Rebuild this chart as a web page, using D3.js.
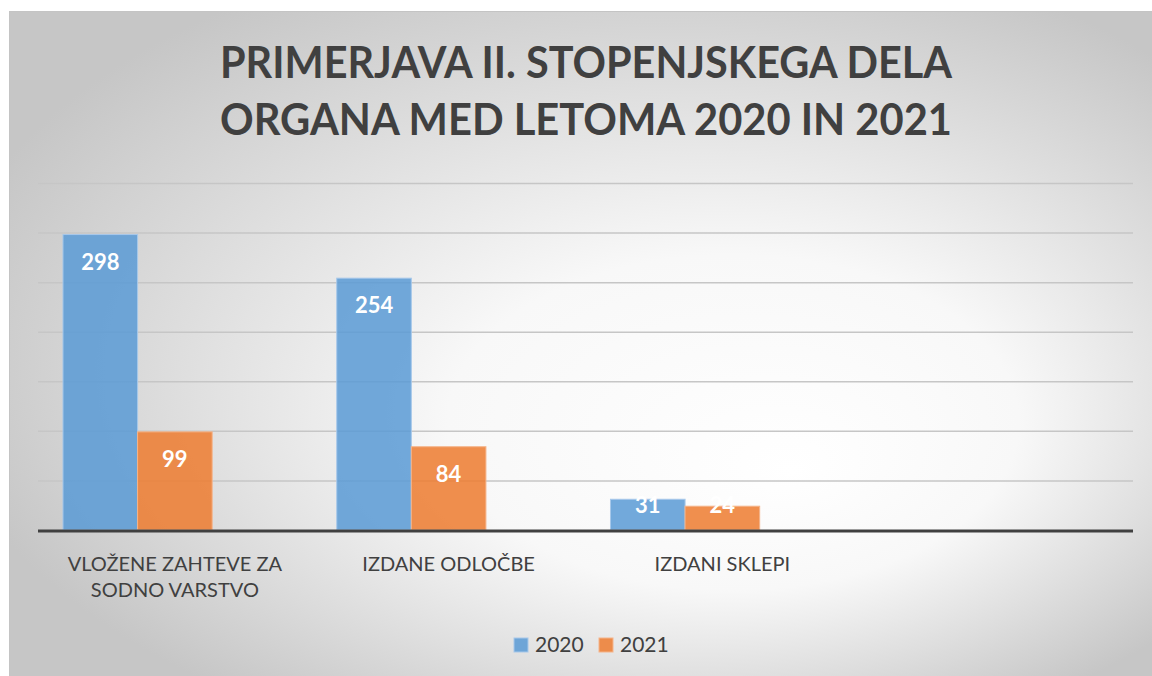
<!DOCTYPE html>
<html>
<head>
<meta charset="utf-8">
<script src="https://cdn.jsdelivr.net/npm/d3@7"></script>
<style>
  html, body { margin: 0; padding: 0; background: #ffffff; }
  svg { display: block; }
</style>
</head>
<body>
<div id="canvas"></div>
<script>
// chart data
const categories = ["VLOŽENE ZAHTEVE ZA SODNO VARSTVO", "IZDANE ODLOČBE", "IZDANI SKLEPI"];
const seriesNames = ["2020", "2021"];
const values2020 = [298, 254, 31];
const values2021 = [99, 84, 24];
const yTicks = [50, 100, 150, 200, 250, 300, 350];
const titleLines = ["PRIMERJAVA II. STOPENJSKEGA DELA", "ORGANA MED LETOMA 2020 IN 2021"];

const w = 1152;
const h = 676;
const colors = { "2020": "#5b9bd5", "2021": "#ed7d31" };
const strokes = { "2020": "#a7c8ea", "2021": "#f5b48a" };
const fontFam = "Lato, 'Open Sans', sans-serif";

const svg = d3.select("#canvas")
  .append("svg")
  .attr("width", w)
  .attr("height", h);

const defs = svg.append("defs");
const bg = defs.append("radialGradient")
  .attr("id", "bg")
  .attr("cx", 0.55).attr("cy", 0.5).attr("r", 0.62)
  .attr("fx", 0.68).attr("fy", 0.68);
bg.append("stop").attr("offset", 0).attr("stop-color", "#ffffff");
bg.append("stop").attr("offset", 0.4).attr("stop-color", "#f8f8f8");
bg.append("stop").attr("offset", 1).attr("stop-color", "#c6c6c6");

const gridGrad = defs.append("linearGradient")
  .attr("id", "grid")
  .attr("gradientUnits", "userSpaceOnUse")
  .attr("x1", 0).attr("y1", 180).attr("x2", 0).attr("y2", 485);
gridGrad.append("stop").attr("offset", 0).attr("stop-color", "#c6c6c6");
gridGrad.append("stop").attr("offset", 1).attr("stop-color", "#8e8e8e");

// chart area
svg.append("rect")
  .attr("x", 9.5).attr("y", 11.5)
  .attr("width", w).attr("height", h)
  .attr("fill", "url(#bg)")
  .attr("stroke", "#c4c4c4");

const plot = { left: 38, right: 1133, top: 183, bottom: 530 };

const x = d3.scaleBand()
  .domain(categories.concat([""]))   // empty 4th slot, as in the original
  .range([plot.left, plot.right])
  .paddingInner(0).paddingOuter(0);

const x1 = d3.scaleBand()
  .domain(seriesNames.concat(["_"]))  // third empty series keeps bars shifted left
  .range([0, x.bandwidth()])
  .paddingInner(0).paddingOuter(0.335);

const y = d3.scaleLinear()
  .domain([0, 350])
  .range([plot.bottom, plot.top]);

// gridlines
const yAxis = d3.axisLeft(y)
  .tickValues(yTicks)
  .tickSize(-(plot.right - plot.left))
  .tickFormat("");
const gy = svg.append("g")
  .attr("transform", "translate(" + plot.left + ",0)")
  .call(yAxis);
gy.select(".domain").remove();
gy.selectAll(".tick line")
  .attr("stroke", "url(#grid)")
  .attr("stroke-width", 1.5);

// bars
const rows = categories.map((c, i) => ({ cat: c, vals: [
  { key: "2020", v: values2020[i] },
  { key: "2021", v: values2021[i] }
]}));

const groups = svg.append("g").selectAll("g")
  .data(rows)
  .join("g")
  .attr("transform", d => "translate(" + x(d.cat) + ",0)");

groups.selectAll("rect")
  .data(d => d.vals)
  .join("rect")
  .attr("x", d => x1(d.key))
  .attr("y", d => y(d.v))
  .attr("width", x1.bandwidth())
  .attr("height", d => y(0) - y(d.v))
  .attr("fill", d => colors[d.key])
  .attr("fill-opacity", 0.86)
  .attr("stroke", d => strokes[d.key])
  .attr("stroke-width", 1);

groups.selectAll("text")
  .data(d => d.vals)
  .join("text")
  .attr("x", d => x1(d.key) + x1.bandwidth() / 2)
  .attr("y", d => Math.min(y(d.v) + 35, y(0) - 17))
  .attr("text-anchor", "middle")
  .attr("font-family", fontFam)
  .attr("font-weight", "bold")
  .attr("font-size", 22)
  .attr("fill", "#ffffff")
  .text(d => d.v);

// base axis line
svg.append("line")
  .attr("x1", plot.left).attr("x2", plot.right)
  .attr("y1", y(0) + 1).attr("y2", y(0) + 1)
  .attr("stroke", "#404040")
  .attr("stroke-width", 3);

// category labels, wrapped
function wrapWords(text, maxW, measure) {
  const words = text.split(" ");
  const lines = [];
  let cur = "";
  words.forEach(wd => {
    const t = cur ? cur + " " + wd : wd;
    if (cur && measure(t) > maxW) { lines.push(cur); cur = wd; }
    else cur = t;
  });
  if (cur) lines.push(cur);
  return lines;
}
const probe = svg.append("text")
  .attr("font-family", fontFam).attr("font-size", 20);
const measure = t => { probe.text(t); return probe.node().getComputedTextLength(); };

categories.forEach(c => {
  const lines = wrapWords(c, 240, measure);
  const t = svg.append("text")
    .attr("text-anchor", "middle")
    .attr("font-family", fontFam)
    .attr("font-size", 20)
    .attr("fill", "#404040");
  lines.forEach((ln, i) => {
    t.append("tspan")
      .attr("x", x(c) + x.bandwidth() / 2)
      .attr("y", 571 + i * 26)
      .text(ln);
  });
});
probe.remove();

// title
titleLines.forEach((ln, i) => {
  const t = svg.append("text")
    .attr("x", 586)
    .attr("y", 78 + i * 57)
    .attr("text-anchor", "middle")
    .attr("font-family", fontFam)
    .attr("font-weight", "bold")
    .attr("font-size", 43)
    .attr("fill", "#404040")
    .text(ln);
  if (t.node().getComputedTextLength() > 732) {
    t.attr("textLength", 732).attr("lengthAdjust", "spacingAndGlyphs");
  }
});

// legend
const legend = svg.append("g");
const legendX = { "2020": 514, "2021": 599 };
seriesNames.forEach(s => {
  legend.append("rect")
    .attr("x", legendX[s]).attr("y", 638)
    .attr("width", 14).attr("height", 14)
    .attr("fill", colors[s])
    .attr("fill-opacity", 0.86)
    .attr("stroke", strokes[s]);
  legend.append("text")
    .attr("x", legendX[s] + 21).attr("y", 652)
    .attr("font-family", fontFam)
    .attr("font-size", 21)
    .attr("fill", "#404040")
    .text(s);
});
</script>
</body>
</html>
